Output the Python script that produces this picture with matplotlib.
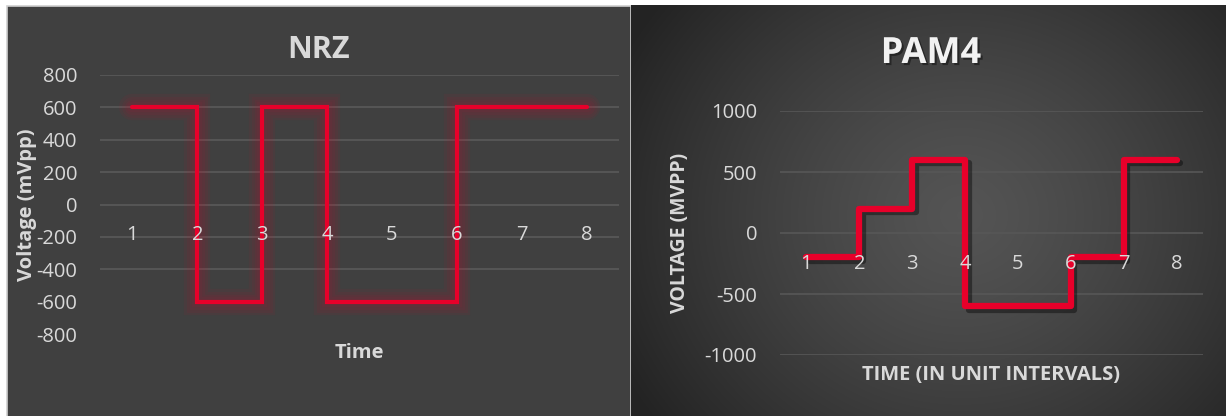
import numpy as np
import matplotlib.pyplot as plt
import matplotlib.patheffects as pe
from matplotlib.patches import Rectangle

plt.rcParams['font.family'] = ['Open Sans', 'DejaVu Sans']
plt.rcParams['axes.unicode_minus'] = False

# Datos
time = [1, 2, 3, 4, 5, 6, 7, 8]
nrz_mv = [600, -600, 600, -600, -600, 600, 600, 600]
pam4_mv = [-200, 200, 600, -600, -600, -200, 600, 600]

nrz_yticks = [-800, -600, -400, -200, 0, 200, 400, 600, 800]
pam4_yticks = [-1000, -500, 0, 500, 1000]

W, H = 1226, 416
RED = '#e8002a'
TXT = '#d9d9d9'

fig = plt.figure(figsize=(W / 100, H / 100), dpi=100)
fig.patch.set_facecolor('white')

# Panel izquierdo (fondo gris plano con borde claro)
fig.add_artist(Rectangle((6.5 / W, -0.05), 624 / W, (H - 5.5) / H + 0.05,
                         transform=fig.transFigure, facecolor='#404040',
                         edgecolor='#d0d0d0', lw=1.2, zorder=0))

# Panel derecho (degradado radial)
bg = fig.add_axes([631 / W, 0, (W - 631) / W, (H - 5) / H], zorder=0)
yy, xx = np.mgrid[0:411, 0:595]
r = np.hypot((xx - 330) / 1.0, (yy - 210) * 1.1)
v = 0.33 - 0.19 * np.clip(r / 380, 0, 1) ** 1.3
bg.imshow(np.dstack([v, v, v]), aspect='auto', extent=[0, 1, 0, 1])
bg.set_axis_off()


def style_axes(ax, yticks, grid_vals, grid_color):
    ax.set_facecolor('none')
    for s in ax.spines.values():
        s.set_visible(False)
    ax.set_xlim(0.5, 8.5)
    ax.set_ylim(yticks[0], yticks[-1])
    ax.set_yticks(yticks)
    ax.set_xticks(time)
    ax.spines['bottom'].set_position(('data', 0))
    ax.tick_params(length=0, labelsize=14.5, colors=TXT)
    ax.tick_params(axis='y', pad=16.5)
    ax.tick_params(axis='x', pad=15)
    ax.set_axisbelow(False)  # etiquetas del eje por encima de la serie
    # líneas de cuadrícula por debajo de la serie
    for g in grid_vals:
        ax.axhline(g, color=grid_color, lw=1.2, zorder=0.5)


# ---- NRZ ----
ax1 = fig.add_axes([100 / W, (H - 334) / H, 519 / W, 259 / H], zorder=2)
style_axes(ax1, nrz_yticks, [t for t in nrz_yticks if t >= -400], '#5a5a5a')
# halo difuso
for w in [19, 15, 11, 7.5]:
    ax1.plot(time, nrz_mv, drawstyle='steps-post', color=RED, lw=w,
             alpha=0.055, solid_joinstyle='miter', solid_capstyle='round')
ax1.plot(time, nrz_mv, drawstyle='steps-post', color=RED, lw=3,
         solid_joinstyle='miter', solid_capstyle='round')
ax1.set_ylabel('Voltage (mVpp)', fontsize=14.5, fontweight='bold', color=TXT, va='center')
ax1.yaxis.set_label_coords(-0.1407, 0.5)
ax1.set_xlabel('Time', fontsize=14.5, fontweight='bold', color=TXT, va='center')
ax1.xaxis.set_label_coords(0.5, -0.0734)
fig.text(319 / W, 1 - 50 / H, 'NRZ', fontsize=22, fontweight='bold', color=TXT,
         ha='center', va='center')

# ---- PAM4 ----
ax2 = fig.add_axes([780 / W, (H - 355) / H, 423 / W, 244 / H], zorder=2)
style_axes(ax2, pam4_yticks, pam4_yticks, '#575757')
ax2.plot(time, pam4_mv, drawstyle='steps-post', color=RED, lw=4.5,
         solid_joinstyle='round', solid_capstyle='round',
         path_effects=[pe.SimpleLineShadow(offset=(2.5, -2.5), shadow_color='black', alpha=0.4),
                       pe.Normal()])
ax2.set_ylabel('VOLTAGE (MVPP)', fontsize=14, fontweight='bold', color=TXT, va='center')
ax2.yaxis.set_label_coords(-0.2364, 0.5)
ax2.set_xlabel('TIME (IN UNIT INTERVALS)', fontsize=14.5, fontweight='bold', color=TXT, va='center')
ax2.xaxis.set_label_coords(0.5, -0.082)
fig.text(931 / W, 1 - 54 / H, 'PAM4', fontsize=26, fontweight='bold', color='#f2f2f2',
         ha='center', va='center',
         path_effects=[pe.withSimplePatchShadow(offset=(1.5, -1.5), shadow_rgbFace='black', alpha=0.4)])

fig.savefig('out.png', dpi=100)
